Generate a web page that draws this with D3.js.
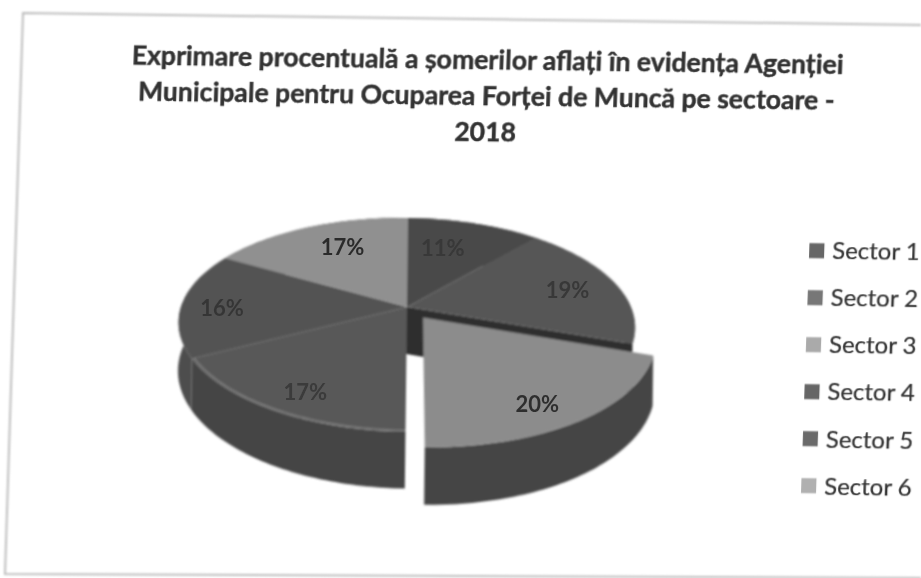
<!DOCTYPE html>
<svg width="921" height="578"></svg>
<script src="https://d3js.org/d3.v7.min.js"></script>
<style>
  body {
    margin: 0;
    background: #fff;
  }
  svg {
    display: block;
  }
  text {
    font-family: Lato, "Open Sans", sans-serif;
    fill: #333;
  }
  .title {
    font-weight: 700;
    font-size: 26.6px;
    text-anchor: middle;
    stroke: #333;
    stroke-width: 0.45px;
  }
  .legend-label {
    font-size: 24px;
    stroke: #333;
    stroke-width: 0.2px;
  }
  .pct {
    font-weight: 700;
    font-size: 22px;
    text-anchor: middle;
  }
</style>
<script>
var titleLines = [
  "Exprimare procentuală a șomerilor aflați în evidența Agenției",
  "Municipale pentru Ocuparea Forței de Muncă pe sectoare  -",
  "2018"
];
var sectors = ["Sector 1", "Sector 2", "Sector 3", "Sector 4", "Sector 5", "Sector 6"];
var shares = [11, 19, 20, 17, 16, 17];

// greys of the scan, one per sector
var topColors = ["#484848", "#575757", "#8c8c8c", "#595959", "#525252", "#909090"];
var wallColors = ["#333333", "#404040", "#444444", "#444444", "#4e4e4e", "#555555"];
var swatchColors = ["#666666", "#777777", "#aaaaaa", "#666666", "#6a6a6a", "#b0b0b0"];
var labelColors = ["#383838", "#383838", "#2f2f2f", "#3a3a3a", "#363636", "#2a2a2a"];

// label shift from the computed spot, in px
var labelNudge = [[-16, 8], [2, 5], [-2, 13], [-4, 9], [-14, 1], [14, 2]];

var svg = d3.select("svg");

var defs = svg.append("defs");
defs.append("filter").attr("id", "scan").append("feGaussianBlur").attr("stdDeviation", 0.8);
defs.append("filter").attr("id", "scanText").append("feGaussianBlur").attr("stdDeviation", 0.5);

// the page was scanned a bit crooked
svg.append("path")
    .attr("d", d3.line()([[921, 25], [23, 13], [5, 574], [921, 578]]))
    .attr("fill", "none")
    .attr("stroke", "#bdbdbd")
    .attr("stroke-width", 2)
    .attr("filter", "url(#scan)");

var page = svg.append("g")
    .attr("transform", "matrix(1,0.0133,-0.034,1,0.4,-0.3)")
    .attr("filter", "url(#scanText)");

page.selectAll(".title")
    .data(titleLines)
  .enter().append("text")
    .attr("class", "title")
    .attr("x", 489)
    .attr("y", function(d, i) { return 63 + i * 36; })
    .text(function(d) { return d; });

var legendY = d3.scalePoint()
    .domain(sectors)
    .range([240, 475]);

var legendRows = page.selectAll(".legend-row")
    .data(sectors)
  .enter().append("g")
    .attr("class", "legend-row")
    .attr("transform", function(d) { return "translate(817," + legendY(d) + ")"; });

legendRows.append("rect")
    .attr("y", -7.5)
    .attr("width", 15)
    .attr("height", 15)
    .attr("fill", function(d, i) { return swatchColors[i]; });

legendRows.append("text")
    .attr("class", "legend-label")
    .attr("x", 23)
    .attr("dy", "0.35em")
    .text(function(d) { return d; });

// pie, tilted with a bit of perspective
var rx = 225,
    ry = 104,
    persp = 0.168,
    depth = 47,
    explode = 0.12;

var pie = d3.pie().sort(null).value(function(d) { return d; });
var slices = pie(shares);

var line = d3.line();

function project(r, a, off, down) {
  var x = r * Math.sin(a) + (off ? off.x : 0),
      y = -r * Math.cos(a) + (off ? off.y : 0),
      w = 1 - persp * y;
  return [rx * x / w, ry * y / w + (down ? depth / w : 0)];
}

function rimAngles(a0, a1) {
  return d3.range(a0, a1, 0.02).concat([a1]);
}

function topPath(s, off) {
  var pts = [project(0, 0, off)];
  rimAngles(s.startAngle, s.endAngle).forEach(function(a) { pts.push(project(1, a, off)); });
  return line(pts) + "Z";
}

function wallPath(s, off) {
  var angles = rimAngles(s.startAngle, s.endAngle),
      pts = angles.map(function(a) { return project(1, a, off); });
  angles.reverse().forEach(function(a) { pts.push(project(1, a, off, true)); });
  return line(pts) + "Z";
}

function cutPath(a) {
  return line([project(0, 0), project(1, a), project(1, a, null, true), project(0, 0, null, true)]) + "Z";
}

function offset(s) {
  if (s.index !== 2) return null;
  var mid = (s.startAngle + s.endAngle) / 2;
  return {x: explode * Math.sin(mid), y: -explode * Math.cos(mid)};
}

var pieG = svg.append("g")
    .attr("transform", "translate(407,307) matrix(1,0.0133,-0.012,1,0,0)")
    .attr("filter", "url(#scan)");

var main = slices.filter(function(s) { return s.index !== 2; }),
    moved = slices.filter(function(s) { return s.index === 2; });

// back to front: main walls, cut face, main tops, then the pulled out slice
pieG.selectAll(".wall")
    .data(main)
  .enter().append("path")
    .attr("class", "wall")
    .attr("d", function(d) { return wallPath(d); })
    .attr("fill", function(d) { return wallColors[d.index]; });

pieG.append("path")
    .attr("d", cutPath(moved[0].startAngle))
    .attr("fill", "#2f2f2f");

pieG.selectAll(".top")
    .data(main)
  .enter().append("path")
    .attr("class", "top")
    .attr("d", function(d) { return topPath(d); })
    .attr("fill", function(d) { return topColors[d.index]; });

pieG.selectAll(".moved-wall")
    .data(moved)
  .enter().append("path")
    .attr("class", "moved-wall")
    .attr("d", function(d) { return wallPath(d, offset(d)); })
    .attr("fill", function(d) { return wallColors[d.index]; });

pieG.selectAll(".moved-top")
    .data(moved)
  .enter().append("path")
    .attr("class", "moved-top")
    .attr("d", function(d) { return topPath(d, offset(d)); })
    .attr("fill", function(d) { return topColors[d.index]; });

// light bevel along the front rim of sector 4
var rim = slices[3];
pieG.append("path")
    .attr("d", line(rimAngles(rim.startAngle, rim.endAngle).map(function(a) { return project(0.99, a); })))
    .attr("fill", "none")
    .attr("stroke", "#7e7e7e")
    .attr("stroke-width", 1.5);

svg.append("g")
    .attr("transform", "translate(407,307)")
    .attr("filter", "url(#scanText)")
    .selectAll(".pct")
    .data(slices)
  .enter().append("text")
    .attr("class", "pct")
    .attr("transform", function(d) {
      var p = project(0.76, (d.startAngle + d.endAngle) / 2, offset(d)),
          n = labelNudge[d.index];
      return "translate(" + (p[0] + n[0]) + "," + (p[1] + n[1]) + ")";
    })
    .attr("dy", "0.35em")
    .style("fill", function(d) { return labelColors[d.index]; })
    .text(function(d) { return d.value + "%"; });
</script>
